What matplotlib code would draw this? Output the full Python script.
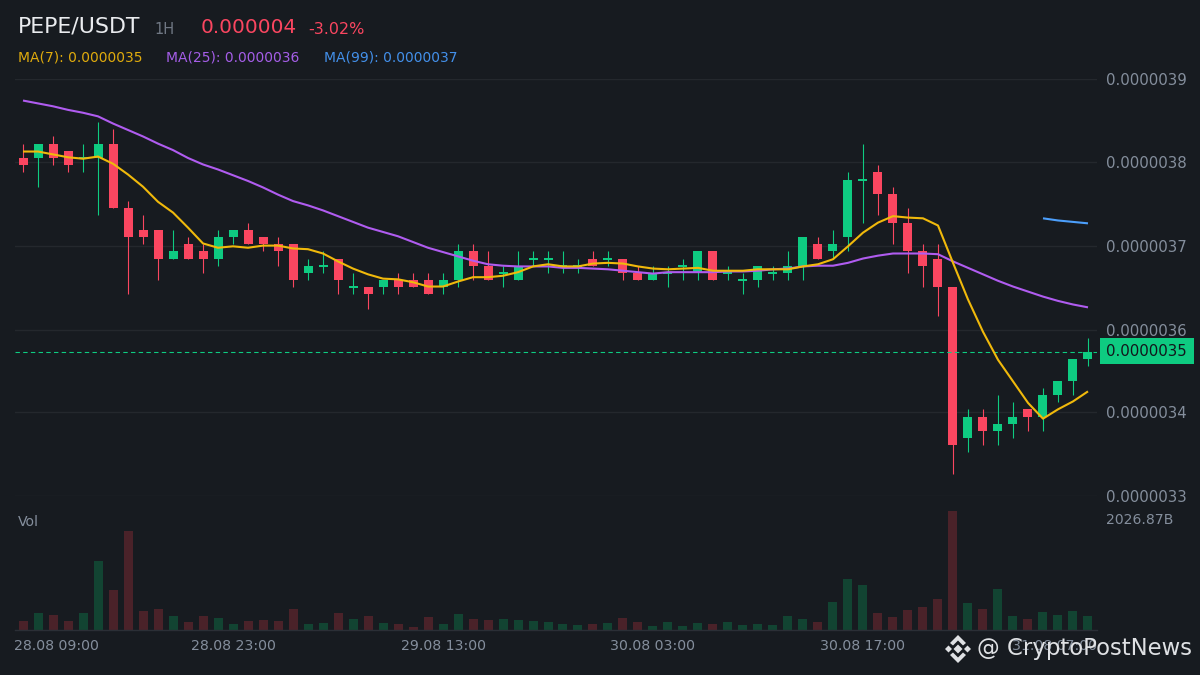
#!/usr/bin/python
# -*- coding: utf-8 -*-

import matplotlib
matplotlib.use('Agg')
import matplotlib.pyplot as plt
from matplotlib.patches import Polygon, Rectangle

###############################################################################
# Data (prices in units of 1e-8 USDT, volumes in billions)
###############################################################################
opens = [
    379, 379, 381, 380, 379, 379, 381, 372, 369, 369, 365, 367, 366, 365, 368,
    369, 368, 367, 367, 363, 364, 365, 361, 361, 361, 362, 362, 362, 361, 362,
    366, 364, 363, 362, 365, 365, 364, 364, 365, 365, 365, 363, 362, 363, 364,
    363, 366, 363, 362, 362, 363, 363, 364, 367, 366, 368, 376, 377, 374, 370,
    366, 365, 361, 340, 343, 341, 342, 344, 343, 346, 348, 351
]
highs = [
    381, 381, 382, 380, 381, 384, 383, 373, 371, 369, 369, 368, 367, 369, 369,
    370, 368, 368, 367, 365, 366, 365, 363, 361, 362, 363, 363, 363, 363, 367,
    367, 366, 364, 366, 366, 366, 366, 365, 366, 366, 365, 364, 364, 364, 365,
    366, 366, 364, 363, 364, 364, 366, 368, 368, 369, 377, 381, 378, 375, 372,
    367, 367, 361, 344, 344, 346, 345, 344, 347, 348, 351, 354
]
lows = [
    377, 375, 378, 377, 377, 371, 372, 360, 367, 362, 365, 365, 363, 364, 367,
    367, 366, 364, 361, 362, 363, 360, 360, 358, 360, 360, 361, 360, 360, 361,
    362, 362, 361, 362, 364, 363, 363, 363, 364, 364, 362, 362, 362, 361, 362,
    362, 362, 362, 360, 361, 362, 362, 362, 365, 365, 366, 370, 371, 367, 363,
    361, 357, 335, 338, 339, 339, 340, 341, 341, 345, 346, 350
]
closes = [
    378, 381, 379, 378, 379, 381, 372, 368, 368, 365, 366, 365, 365, 368, 369,
    367, 367, 366, 362, 364, 364, 362, 361, 360, 362, 361, 361, 360, 362, 366,
    364, 362, 363, 364, 365, 365, 364, 364, 364, 365, 363, 362, 363, 363, 364,
    366, 362, 363, 362, 364, 363, 364, 368, 365, 367, 376, 376, 374, 370, 366,
    364, 361, 339, 343, 341, 342, 343, 343, 346, 348, 351, 352
]
ma7 = [
    379.9, 379.9, 379.5, 379.1, 378.9, 379.2, 378.2, 376.7, 375.0, 372.9,
    371.4, 369.3, 367.1, 366.5, 366.7, 366.5, 366.8, 366.8, 366.4, 366.3,
    365.7, 364.6, 363.6, 362.8, 362.2, 362.1, 361.7, 361.1, 361.1, 361.8,
    362.4, 362.4, 362.6, 363.1, 363.9, 364.2, 363.9, 363.9, 364.3, 364.4,
    364.3, 363.9, 363.6, 363.5, 363.6, 363.7, 363.3, 363.3, 363.3, 363.5,
    363.5, 363.5, 363.9, 364.2, 364.9, 366.7, 368.6, 370.0, 370.9, 370.7,
    370.6, 369.6, 364.4, 359.3, 354.8, 350.9, 347.9, 344.9, 342.7, 344.0,
    345.1, 346.5
]
ma25 = [
    387.0, 386.6, 386.2, 385.7, 385.3, 384.8, 383.8, 382.9, 382.0, 381.0,
    380.1, 379.0, 378.1, 377.4, 376.6, 375.8, 374.9, 373.9, 373.0, 372.4,
    371.7, 370.9, 370.1, 369.3, 368.7, 368.1, 367.3, 366.5, 365.9, 365.3,
    364.7, 364.2, 364.0, 363.9, 363.9, 363.9, 363.7, 363.7, 363.6, 363.5,
    363.3, 363.1, 362.9, 363.1, 363.1, 363.1, 363.1, 363.2, 363.2, 363.3,
    363.5, 363.6, 363.9, 364.0, 364.0, 364.4, 365.0, 365.4, 365.7, 365.7,
    365.7, 365.6, 364.6, 363.7, 362.8, 361.9, 361.1, 360.4, 359.7, 359.1,
    358.6, 358.2
]
ma99_idx = [68, 69, 70, 71]
ma99 = [370.6, 370.3, 370.1, 369.9]
volumes = [
    143, 280, 246, 143, 280, 1170, 674, 1684, 314, 348, 228, 126, 228, 194, 91,
    143, 160, 143, 348, 91, 108, 280, 177, 228, 108, 91, 40, 211, 91, 263,
    177, 160, 177, 160, 143, 126, 91, 74, 91, 108, 194, 126, 57, 126, 57,
    108, 91, 126, 74, 91, 74, 228, 177, 126, 468, 862, 759, 280, 211, 331,
    383, 520, 2027, 451, 348, 691, 228, 177, 297, 246, 314, 228
]
last_price = 352
price_ticks = [390, 378.4, 366.7, 355.1, 343.6, 332]
price_labels = ['0.0000039', '0.0000038', '0.0000037',
                '0.0000036', '0.0000034', '0.0000033']
date_idx = [0, 14, 28, 42, 56, 70]
date_labels = ['28.08 09:00', '28.08 23:00', '29.08 13:00',
               '30.08 03:00', '30.08 17:00', '31.08 07:00']

###############################################################################
# Style
###############################################################################
(W, H) = (1200, 675)
BKG = '#171b20'
GRID = '#24282d'
(UP, DOWN) = ('#0ecb81', '#fa4660')
(VUP, VDOWN) = ('#124432', '#4a2229')
(YEL, PUR, BLU) = ('#f0b90b', '#b05cf0', '#4c9ffb')
TXT = '#848e9c'
PX = 72 / 100  # one pixel in points


def fx(x):
    return x / W


def fy(y):
    return 1 - y / H


def axes_px(left, top, right, bottom):
    return [fx(left), fy(bottom), (right - left) / W, (bottom - top) / H]


###############################################################################
# Price panel
###############################################################################
fig = plt.figure(figsize=(W / 100, H / 100), dpi=100, facecolor=BKG)
ax = fig.add_axes(axes_px(14.5, 79, 1096.5, 495.5), facecolor=BKG)
xlim = (-0.567, 71.567)
idx = list(range(len(opens)))

ax.set_xlim(*xlim)
ax.set_ylim(332, 390)
ax.set_yticks(price_ticks)
ax.set_yticklabels(price_labels)
ax.set_xticks([])
ax.yaxis.tick_right()
ax.tick_params(axis='y', length=0, pad=9.5 * PX, labelsize=10.8, labelcolor=TXT)
ax.grid(axis='y', color=GRID, lw=1)
ax.set_axisbelow(True)
for s in ax.spines.values():
    s.set_visible(False)

colors = [UP if c >= o else DOWN for (o, c) in zip(opens, closes)]
ax.vlines(idx, lows, highs, colors=colors, lw=1.1 * PX, zorder=2)
for (i, o, c, col) in zip(idx, opens, closes, colors):
    if o == c:
        ax.hlines(o, i - 0.3, i + 0.3, colors=col, lw=2 * PX, zorder=3)
    else:
        ax.bar(i, abs(c - o), bottom=min(o, c), width=0.6, color=col,
               linewidth=0, zorder=3)

ax.axhline(last_price, color=UP, lw=1.1 * PX, dashes=(4, 3), zorder=4)
ax.plot(idx, ma25, color=PUR, lw=1.5, zorder=5, solid_capstyle='butt')
ax.plot(idx, ma7, color=YEL, lw=1.5, zorder=6, solid_capstyle='butt')
ax.plot(ma99_idx, ma99, color=BLU, lw=1.5, zorder=5, solid_capstyle='butt')

###############################################################################
# Volume panel
###############################################################################
ax_vol = fig.add_axes(axes_px(14.5, 505, 1096.5, 629.5), facecolor=BKG)
ax_vol.set_xlim(*xlim)
ax_vol.set_ylim(0, 2138)
ax_vol.set_yticks([])
ax_vol.set_xticks([])
vol_colors = [VUP if c >= o else VDOWN for (o, c) in zip(opens, closes)]
ax_vol.bar(idx, volumes, width=0.6, color=vol_colors, linewidth=0)
for (name, s) in ax_vol.spines.items():
    s.set_visible(name == 'bottom')
ax_vol.spines['bottom'].set_color('#2b2f36')
ax_vol.spines['bottom'].set_linewidth(1)

trans = ax_vol.get_xaxis_transform()
for (i, lab) in zip(date_idx, date_labels):
    if i == date_idx[0]:
        (xpos, ha) = (xlim[0], 'left')
    elif i == date_idx[-1]:
        (xpos, ha) = (xlim[1], 'right')
    else:
        (xpos, ha) = (i, 'center')
    ax_vol.text(xpos, -16.5 / 124.5, lab, transform=trans, ha=ha, va='center',
                fontsize=10.2, color=TXT)

###############################################################################
# Header and labels
###############################################################################
fig.text(fx(18), fy(27), 'PEPE/USDT', color='#eaecef', fontsize=15.9, va='center')
fig.text(fx(154), fy(29.5), '1H', color='#6f7783', fontsize=10.5, va='center')
fig.text(fx(201), fy(27.5), '0.000004', color=DOWN, fontsize=14.4, va='center')
fig.text(fx(308), fy(29), '-3.02%', color=DOWN, fontsize=11.5, va='center')
fig.text(fx(18), fy(57.5), 'MA(7): 0.0000035', color='#e0ab0d', fontsize=10,
         va='center')
fig.text(fx(166), fy(57.5), 'MA(25): 0.0000036', color='#a55ee8', fontsize=10,
         va='center')
fig.text(fx(324), fy(57.5), 'MA(99): 0.0000037', color='#4390ea', fontsize=10,
         va='center')
fig.text(fx(18), fy(522.5), 'Vol', color=TXT, fontsize=10.1, va='center')
fig.text(fx(1106), fy(520.5), '2026.87B', color=TXT, fontsize=10.1, va='center')

# Last price tag
fig.add_artist(Rectangle((fx(1100), fy(364)), 94 / W, 26 / H, color=UP,
                         transform=fig.transFigure, zorder=5, lw=0))
fig.text(fx(1106), fy(351.5), '0.0000035', color='#12161b', fontsize=10.8,
         va='center', zorder=6)

###############################################################################
# Watermark
###############################################################################
WM = '#dfe1e4'
(cx, cy) = (958, 649)
logo = [
    [(0, -4.5), (4.5, 0), (0, 4.5), (-4.5, 0)],
    [(-9.5, -3.5), (-6, 0), (-9.5, 3.5), (-13, 0)],
    [(9.5, -3.5), (13, 0), (9.5, 3.5), (6, 0)],
    [(0, -14), (8, -6), (5, -3.5), (0, -8.5), (-5, -3.5), (-8, -6)],
    [(0, 14), (8, 6), (5, 3.5), (0, 8.5), (-5, 3.5), (-8, 6)],
]
for pts in logo:
    fig.add_artist(Polygon(
            [(fx(cx + a), fy(cy + b)) for (a, b) in pts],
            closed=True, color=WM, lw=0, transform=fig.transFigure, zorder=7
        ))
fig.text(fx(977), fy(649), '@ CryptoPostNews', color=WM, fontsize=16.4,
         va='center', zorder=8)

fig.savefig('out.png', dpi=100, facecolor=BKG)
